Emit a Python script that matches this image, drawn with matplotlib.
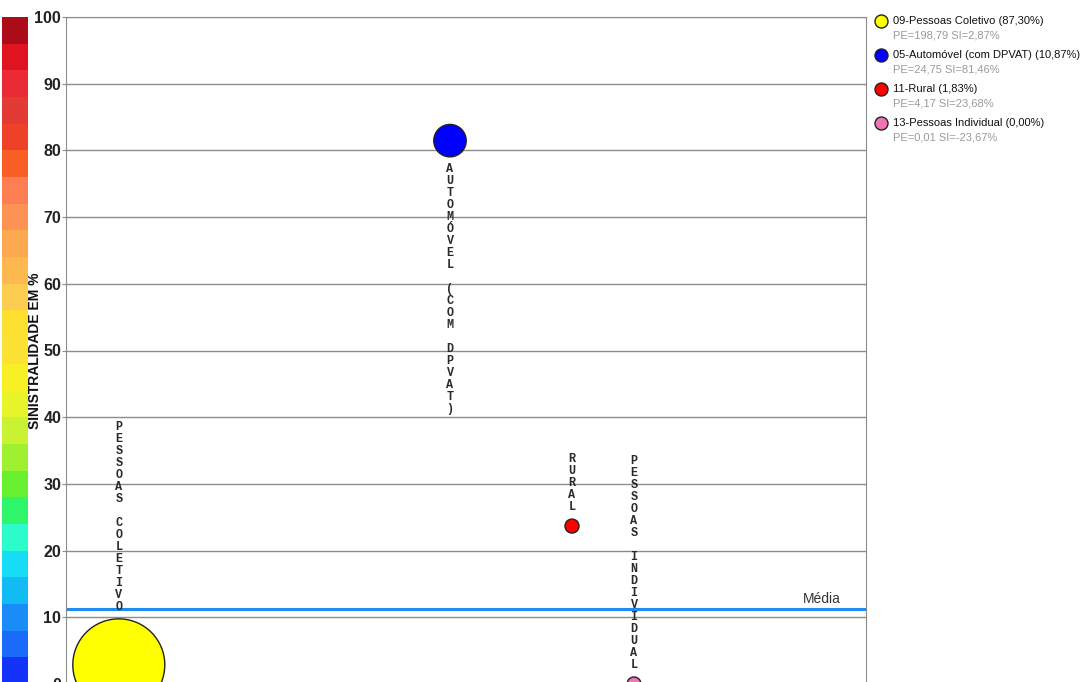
import numpy as np
import matplotlib
matplotlib.use("Agg")
import matplotlib.pyplot as plt

# =====================================================
# DATA
# =====================================================
codes = ["09", "05", "11", "13"]
names = ["Pessoas Coletivo", "Automóvel (com DPVAT)", "Rural", "Pessoas Individual"]
short_labels = ["PESSOAS COLETIVO", "AUTOMÓVEL (COM DPVAT)", "RURAL", "PESSOAS INDIVIDUAL"]
share_pct = [87.30, 10.87, 1.83, 0.00]
pe = [198.79, 24.75, 4.17, 0.01]
si = [2.87, 81.46, 23.68, -23.67]
x_pos = [6.6, 48.0, 63.25, 71.0]
media = 11.24

bubble_colors = ["#FFFF00", "#0000FF", "#FF0000", "#F075B4"]
label_side = ["above", "below", "above", "above"]

# colour scale, from 0 (bottom) to 100 (top), 4 points per step
scale_colors = [
    "#1432F8", "#1A6BF9", "#1A8CF7", "#12BBF3", "#16DDF5",
    "#2CFBCB", "#2EF56A", "#66F030", "#A0F032", "#C9F232",
    "#E8F42A", "#F7F024", "#FBE234", "#FEE030", "#FECC50",
    "#FDB84F", "#FCA94F", "#FC9355", "#FC7E52", "#F95E25",
    "#EF4128", "#E23A35", "#EA2A35", "#E0141E", "#AA0D18",
]

W, H = 1089, 682
DPI = 100


def fmt(v):
    return f"{v:.2f}".replace(".", ",")


def radius_px(p):
    return max(46 * np.sqrt(p / max(pe)), 7)


# =====================================================
# FIGURE
# =====================================================
fig = plt.figure(figsize=(W / DPI, H / DPI), dpi=DPI)

ax_l, ax_r, ax_t, ax_b = 66, 866, 17, 684
ax = fig.add_axes([ax_l / W, (H - ax_b) / H, (ax_r - ax_l) / W, (ax_b - ax_t) / H])
ax.set_xlim(0, 100)
ax.set_ylim(0, 100)

grid_c = "#8C8C8C"
for s in ["left", "right", "top", "bottom"]:
    ax.spines[s].set_color(grid_c)
ax.set_yticks(np.arange(0, 101, 10))
ax.set_xticks([])
ax.yaxis.grid(True, color=grid_c, linewidth=1)
ax.set_axisbelow(True)
ax.tick_params(axis="y", length=3, color=grid_c, pad=0.5)
for t in ax.get_yticklabels():
    t.set_fontfamily("Liberation Sans")
    t.set_fontweight("bold")
    t.set_fontsize(11.5)
    t.set_color("#222222")

ax.set_ylabel("SINISTRALIDADE EM %", fontsize=10, fontweight="bold",
              family="Liberation Sans", color="#111111")
ax.yaxis.set_label_coords(-0.03, 0.5)

# média line
ax.axhline(media, color="#1E8CF0", linewidth=2.2, zorder=2)
ax.annotate("Média", xy=(100, media), xytext=(-18, 2), textcoords="offset points",
            ha="right", va="bottom", fontsize=10, family="Liberation Sans",
            color="#333333")

# bubbles
y_plot = [max(v, 0) for v in si]
sizes = [(2 * radius_px(p) * 72 / DPI) ** 2 for p in pe]
ax.scatter(x_pos, y_plot, s=sizes, c=bubble_colors, edgecolors="#222222",
           linewidths=1, zorder=3)

# stacked vertical labels
step_pt = 12 * 72 / DPI
gap_pt = 12 * 72 / DPI
for lab, x, y, p, side in zip(short_labels, x_pos, y_plot, pe, label_side):
    r_pt = radius_px(p) * 72 / DPI
    n = len(lab)
    for i, ch in enumerate(lab):
        if ch == " ":
            continue
        if side == "above":
            off = r_pt + gap_pt + (n - 1 - i) * step_pt
        else:
            off = -(r_pt + gap_pt + i * step_pt)
        ax.annotate(ch, xy=(x, y), xytext=(0, off), textcoords="offset points",
                    ha="center", va="center", fontsize=8.5,
                    family="Liberation Mono", fontweight="bold",
                    color="#2A2A2A", zorder=4)

# =====================================================
# COLOUR SCALE
# =====================================================
cax = fig.add_axes([2 / W, (H - ax_b) / H, 26 / W, (ax_b - ax_t) / H])
cax.set_zorder(-1)
bounds = np.linspace(0, 100, len(scale_colors) + 1)
cax.bar(np.zeros(len(scale_colors)), np.diff(bounds), bottom=bounds[:-1],
        width=1, color=scale_colors, align="center")
cax.set_xlim(-0.5, 0.5)
cax.set_ylim(0, 100)
cax.axis("off")

# =====================================================
# LEGEND
# =====================================================
lax = fig.add_axes([0, 0, 1, 1], facecolor="none")
lax.set_xlim(0, W)
lax.set_ylim(H, 0)
lax.axis("off")
for i in range(len(codes)):
    yy = 21 + i * 34
    lax.scatter([881], [yy], s=(13 * 72 / DPI) ** 2, c=bubble_colors[i],
                edgecolors="#222222", linewidths=1)
    lax.text(893, yy, f"{codes[i]}-{names[i]} ({fmt(share_pct[i])}%)",
             fontsize=8, family="Liberation Sans", color="#111111",
             va="center", ha="left")
    lax.text(893, yy + 14, f"PE={fmt(pe[i])} SI={fmt(si[i])}%",
             fontsize=8, family="Liberation Sans", color="#9A9A9A",
             va="center", ha="left")

fig.savefig("out.png", dpi=DPI)
